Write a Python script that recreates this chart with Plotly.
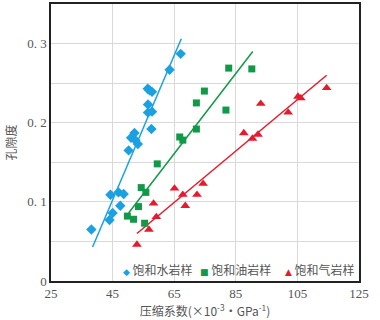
import plotly.graph_objects as go

# --- data ---
water_x = [38.1, 44.0, 45.0, 44.3, 46.9, 48.6, 47.5, 50.2, 51.0, 52.1, 52.4, 53.2,
           57.6, 56.5, 57.8, 56.5, 56.4, 57.0, 57.8, 63.5, 67.1]
water_y = [0.065, 0.077, 0.086, 0.109, 0.112, 0.110, 0.095, 0.165, 0.181, 0.187, 0.178, 0.173,
           0.192, 0.213, 0.214, 0.223, 0.243, 0.241, 0.239, 0.267, 0.287]
oil_x = [49.8, 51.8, 54.3, 55.8, 53.4, 55.4, 59.5, 66.8, 67.8, 72.2, 72.2, 74.8, 82.7, 90.2, 81.8]
oil_y = [0.082, 0.078, 0.118, 0.112, 0.094, 0.073, 0.148, 0.182, 0.178, 0.192, 0.225, 0.240, 0.269, 0.268, 0.216]
gas_x = [52.9, 56.8, 58.3, 59.2, 65.1, 67.8, 68.6, 72.4, 74.4, 87.6, 90.4, 92.2, 93.1, 102.0, 105.2, 106.1, 114.5]
gas_y = [0.046, 0.065, 0.098, 0.081, 0.117, 0.109, 0.095, 0.109, 0.123, 0.187, 0.180, 0.185, 0.224, 0.213, 0.233, 0.231, 0.244]

# fitted trend lines (end points)
water_fit_x = [38.5, 67.3]
water_fit_y = [0.043, 0.306]
oil_fit_x = [50.2, 90.5]
oil_fit_y = [0.086, 0.290]
gas_fit_x = [52.9, 114.5]
gas_fit_y = [0.060, 0.260]

names = ["饱和水岩样", "饱和油岩样", "饱和气岩样"]
colors = ["#1ba1e2", "#109a47", "#e8192c"]
symbols = ["diamond", "square", "triangle-up"]
legend_glyphs = ["◆", "■", "▲"]

x_ticks = [25, 45, 65, 85, 105, 125]
y_grid = [0, 0.05, 0.1, 0.15, 0.2, 0.25, 0.3]
y_ticktext = ["0", "", "0. 1", "", "0. 2", "", "0. 3"]

fig = go.Figure()
series = [(water_x, water_y, water_fit_x, water_fit_y),
          (oil_x, oil_y, oil_fit_x, oil_fit_y),
          (gas_x, gas_y, gas_fit_x, gas_fit_y)]
sizes = [8, 7, 8.5]
for (sx, sy, fx, fy), c in zip(series, colors):
    fig.add_trace(go.Scatter(x=fx, y=fy, mode="lines", line=dict(color=c, width=1.5),
                             showlegend=False, hoverinfo="skip"))
for (sx, sy, fx, fy), n, c, s, sz in zip(series, names, colors, symbols, sizes):
    fig.add_trace(go.Scatter(x=sx, y=sy, mode="markers", name=n, showlegend=False,
                             marker=dict(color=c, symbol=s, size=sz, line=dict(width=0))))

serif = "Liberation Serif, DejaVu Serif, serif"
cjk = "Noto Sans CJK SC"

# legend drawn as annotations (marker glyph + label)
legend_x = [0.227, 0.477, 0.752]
for lx, n, c, g in zip(legend_x, names, colors, legend_glyphs):
    fig.add_annotation(xref="paper", yref="paper", x=lx, y=0.04, xanchor="left", yanchor="middle",
                       showarrow=False,
                       text=f"<span style='color:{c};font-family:DejaVu Sans;font-size:9px'>{g}</span> {n}",
                       font=dict(family=cjk, size=12, color="#555"))

fig.update_layout(
    width=380, height=320,
    margin=dict(l=51, r=21, t=4, b=39),
    paper_bgcolor="white", plot_bgcolor="white",
    font=dict(family=serif, size=12, color="#444"),
    showlegend=False,
    xaxis=dict(range=[25, 125], tickvals=x_ticks, showgrid=True, gridcolor="#d9d9d9", gridwidth=1,
               showline=True, linecolor="#222", linewidth=1.5, mirror=True, zeroline=False,
               ticks="", automargin=False, tickfont=dict(family=serif, size=13, color="#555"),
               title=dict(text="压缩系数(×10<sup>-3</sup>·GPa<sup>-1</sup>)", standoff=1,
                          font=dict(family=cjk, size=12, color="#555"))),
    yaxis=dict(range=[0, 0.35], tickvals=y_grid, ticktext=y_ticktext,
               showgrid=True, gridcolor="#d9d9d9", gridwidth=1,
               showline=True, linecolor="#222", linewidth=1.5, mirror=True, zeroline=False,
               ticks="", automargin=False, tickfont=dict(family=serif, size=13, color="#555"),
               title=dict(text="孔隙度", standoff=8,
                          font=dict(family=cjk, size=12, color="#555"))),
)
fig.write_html("out.html", config={"displayModeBar": False},
               post_script="document.body.style.margin='0px';")
